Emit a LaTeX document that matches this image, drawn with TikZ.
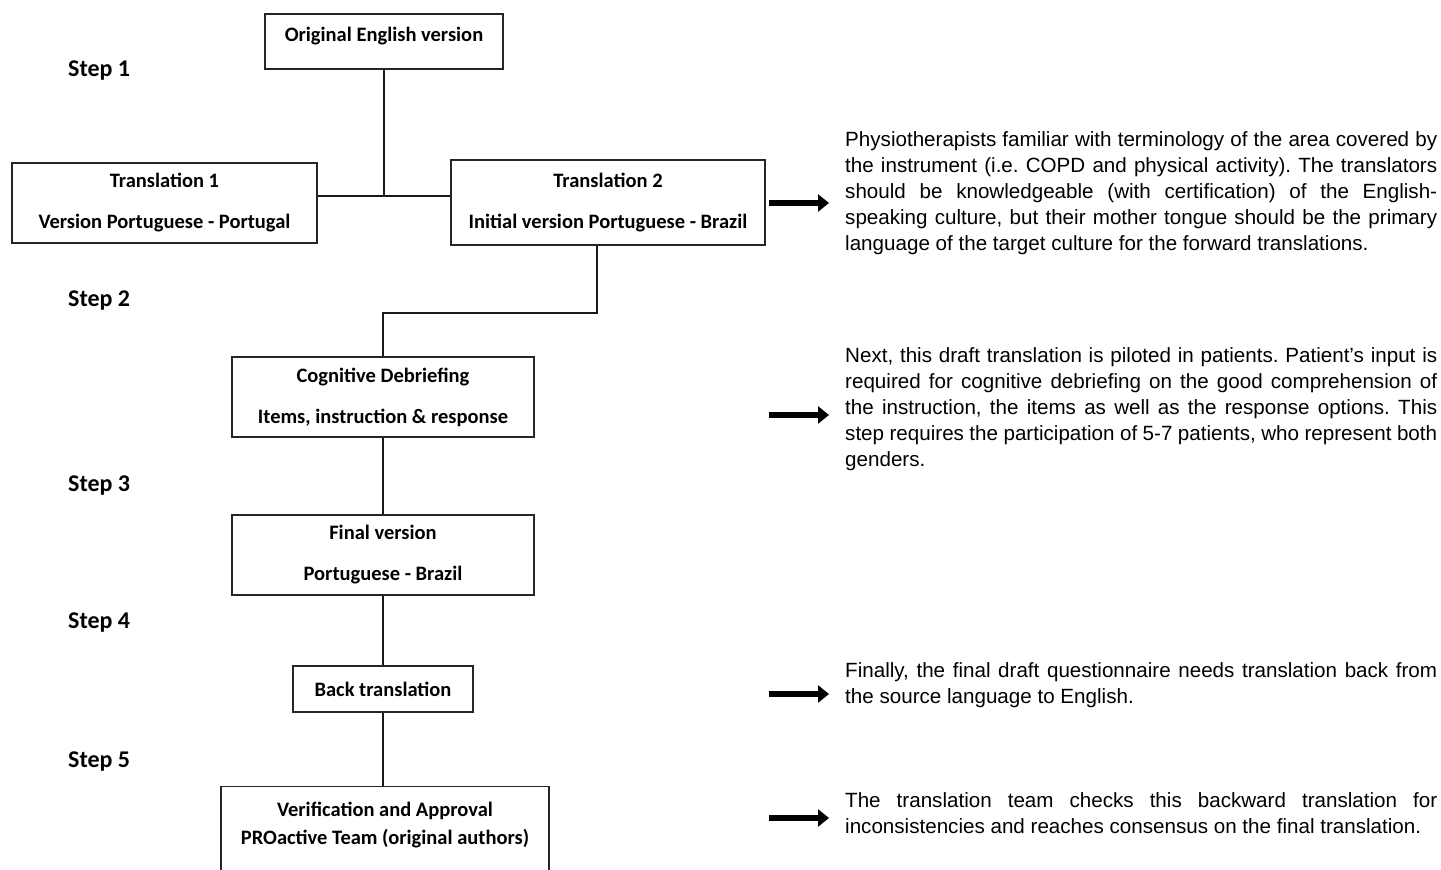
\documentclass[tikz,border=0pt]{standalone}
\usepackage{fontspec}
\setmainfont{Carlito}
\newfontfamily\notefont{Liberation Sans}
\usetikzlibrary{arrows.meta}

\begin{document}
\begin{tikzpicture}[x=1pt,y=-1pt,
    caja/.style={draw=black!85,line width=1.2pt,align=center,inner sep=0pt,
      font=\bfseries\fontsize{20.5}{41}\selectfont},
    paso/.style={anchor=base west,inner sep=0pt,font=\bfseries\fontsize{24}{26}\selectfont},
    nota/.style={anchor=north west,text width=592pt,align=justify,inner sep=0pt,
      font=\notefont\fontsize{20.6}{26}\selectfont\frenchspacing},
    linea/.style={line width=1.6pt,black!90},
    flecha/.style={line width=6.5pt,-{Triangle[length=11pt,width=17pt]}}]
    \useasboundingbox (0,0) rectangle (1441,870);
    \clip (0,0) rectangle (1441,870);
    %PASOS:
    \node[paso] (s1) at (68,76) {Step 1};
    \node[paso] (s2) at (68,306) {Step 2};
    \node[paso] (s3) at (68,491) {Step 3};
    \node[paso] (s4) at (68,628) {Step 4};
    \node[paso] (s5) at (68,767) {Step 5};
    %CAJAS------------------------------
    \node[caja,minimum width=238pt,minimum height=55pt,text depth=15pt] (orig) at (384,41.5) {Original English version};
    \node[caja,minimum width=305pt,minimum height=80pt] (t1) at (164.5,203) {Translation 1\\Version Portuguese - Portugal};
    \node[caja,minimum width=314pt,minimum height=85pt] (t2) at (608,202.5) {Translation 2\\Initial version Portuguese - Brazil};
    \node[caja,minimum width=302pt,minimum height=80pt] (cog) at (383,397) {Cognitive Debriefing\\Items, instruction \& response};
    \node[caja,minimum width=302pt,minimum height=80pt] (fin) at (383,555) {Final version\\Portuguese - Brazil};
    \node[caja,minimum width=180pt,minimum height=46pt] (back) at (383,689) {Back translation};
    \node[caja,anchor=north,minimum width=328pt,inner ysep=15pt,text depth=60pt,
      font=\bfseries\fontsize{20.5}{28}\selectfont] (ver) at (385,786) {Verification and Approval\\PROactive Team (original authors)};
    %LINEAS-----------------------------
    \coordinate (j1) at (384,196);
    \coordinate (k1) at (597,313);
    \draw[linea] (orig.south) -- (orig.south |- j1);
    \draw[linea] (t1.east |- j1) -- (t2.west |- j1);
    \draw[linea] (t2.south -| k1) -- (k1) -- (cog.north |- k1) -- (cog.north);
    \draw[linea] (cog.south) -- (fin.north);
    \draw[linea] (fin.south) -- (back.north);
    \draw[linea] (back.south) -- (back.south |- ver.north);
    %NOTAS------------------------------
    \node[nota] (n1) at (845,131) {Physiotherapists familiar with terminology of the area covered by\linebreak
      the instrument (i.e. COPD and physical activity). The translators\linebreak
      should be knowledgeable (with certification) of the English-\linebreak
      speaking culture, but their mother tongue should be the primary\linebreak
      language of the target culture for the forward translations.};
    \node[nota] (n2) at (845,347) {Next, this draft translation is piloted in patients. Patient’s input is\linebreak
      required for cognitive debriefing on the good comprehension of\linebreak
      the instruction, the items as well as the response options. This\linebreak
      step requires the participation of 5-7 patients, who represent both\linebreak
      genders.};
    \node[nota] (n3) at (845,662) {Finally, the final draft questionnaire needs translation back from\linebreak
      the source language to English.};
    \node[nota] (n4) at (845,792) {The translation team checks this backward translation for\linebreak
      inconsistencies and reaches consensus on the final translation.};
    %FLECHAS----------------------------
    \foreach \y in {203,415,694,818}
      \draw[flecha] (769,\y) -- (829,\y);
\end{tikzpicture}
\end{document}
